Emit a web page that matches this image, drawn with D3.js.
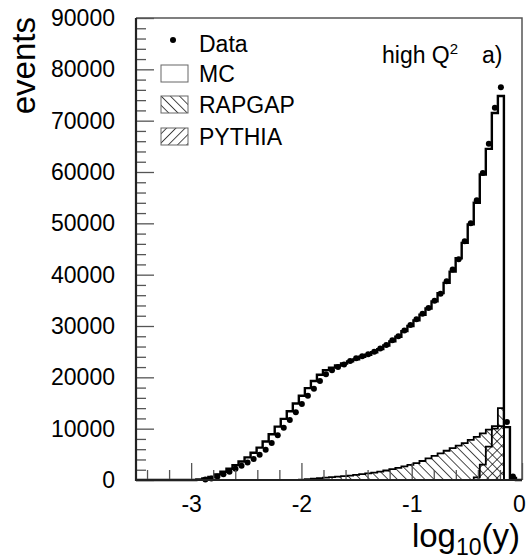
<!DOCTYPE html>
<html>
<head>
<meta charset="utf-8">
<script src="https://cdn.jsdelivr.net/npm/d3@7"></script>
<style>
  body { margin: 0; background: #fff; }
  text { font-family: "Liberation Sans", Arial, Helvetica, sans-serif; fill: #000; }
</style>
</head>
<body>
<svg id="chart" width="526" height="559"></svg>
<script>
// binning of log10(y): 64 bins from -3.5 to 0
const xMin = -3.5, xMax = 0, nBins = 64;

// bin contents (one value per bin, left to right)
const dataCounts = [
    0, 0, 0, 0, 0, 0, 0, 0, 0, 0, 0, 100,
    300, 700, 1100, 1600, 2200, 2800, 3400, 4100, 4900, 5900,
    7200, 8700, 10200, 11700, 13200, 14800, 16400, 17800, 19300, 20600,
    21400, 22000, 22500, 23200, 23700, 24100, 24500, 25000, 25600, 26300,
    27200, 28000, 29100, 30200, 31300, 32400, 33500, 34900, 36300, 38700,
    41000, 43000, 46500, 50000, 54500, 59800, 65500, 72500, 76500, 11300,
    700, 0
];
const mcCounts = [
    0, 0, 0, 0, 0, 0, 0, 0, 0, 0, 100, 300,
    600, 1100, 1600, 2200, 2900, 3600, 4400, 5300, 6300, 7500,
    8900, 10400, 11900, 13400, 14900, 16400, 17900, 19300, 20500, 21400,
    21900, 22300, 22700, 23100, 23500, 24000, 24400, 24900, 25500, 26200,
    27000, 27900, 29000, 30000, 31100, 32200, 33400, 34800, 36400, 38400,
    40600, 43200, 46200, 49800, 54000, 59500, 64500, 71500, 74800, 10300,
    400, 0
];
const rapgapCounts = [
    0, 0, 0, 0, 0, 0, 0, 0, 0, 0, 0, 0,
    0, 0, 0, 0, 0, 0, 0, 0, 0, 0,
    0, 0, 0, 0, 0, 50, 150, 250, 350, 450,
    550, 650, 750, 850, 1000, 1150, 1300, 1450, 1650, 1850,
    2100, 2350, 2650, 2950, 3300, 3700, 4200, 4700, 5200, 5700,
    6200, 6700, 7200, 7800, 8400, 9100, 9800, 10500, 14000, 0,
    0, 0
];
const pythiaCounts = [
    0, 0, 0, 0, 0, 0, 0, 0, 0, 0, 0, 0,
    0, 0, 0, 0, 0, 0, 0, 0, 0, 0,
    0, 0, 0, 0, 0, 0, 0, 0, 0, 0,
    0, 0, 0, 0, 0, 0, 0, 0, 0, 0,
    0, 0, 0, 0, 0, 0, 0, 0, 0, 0,
    0, 0, 0, 0, 500, 3000, 6500, 10000, 10500, 0,
    0, 0
];

const xMajorTicks = [-3, -2, -1, 0];
const yMajorTicks = [0, 10000, 20000, 30000, 40000, 50000, 60000, 70000, 80000, 90000];
const legendLabels = ["Data", "MC", "RAPGAP", "PYTHIA"];

const svg = d3.select("#chart");

const x = d3.scaleLinear().domain([xMin, xMax]).range([136, 522]);
const y = d3.scaleLinear().domain([0, 90000]).range([480, 18]);

const edges = d3.range(nBins + 1).map(i => xMin + i * (xMax - xMin) / nBins);
const centers = d3.range(nBins).map(i => (edges[i] + edges[i + 1]) / 2);

// hatch patterns
const defs = svg.append("defs");
function hatch(id, angle, spacing) {
    const p = defs.append("pattern")
        .attr("id", id)
        .attr("patternUnits", "userSpaceOnUse")
        .attr("width", spacing)
        .attr("height", spacing)
        .attr("patternTransform", `rotate(${angle})`);
    p.append("line")
        .attr("x1", 0).attr("y1", 0)
        .attr("x2", 0).attr("y2", spacing)
        .attr("stroke", "#000")
        .attr("stroke-width", 1.4);
}
hatch("hatch-rapgap", -45, 6.5);
hatch("hatch-pythia", 45, 6.5);

// frame (top and right)
svg.append("path")
    .attr("d", `M${x(xMin)},${y(90000)}H${x(xMax)}V${y(0)}`)
    .attr("fill", "none")
    .attr("stroke", "#555")
    .attr("stroke-width", 1.5);

function stepPoints(vals) {
    const pts = [];
    vals.forEach((v, i) => {
        pts.push([edges[i], v]);
        pts.push([edges[i + 1], v]);
    });
    return pts;
}

const area = d3.area()
    .x(d => x(d[0]))
    .y0(y(0))
    .y1(d => y(d[1]));
const line = d3.line()
    .x(d => x(d[0]))
    .y(d => y(d[1]));

function drawHist(vals, fill, width) {
    const pts = stepPoints(vals);
    svg.append("path")
        .attr("d", area(pts))
        .attr("fill", fill)
        .attr("stroke", "none");
    svg.append("path")
        .attr("d", line(pts))
        .attr("fill", "none")
        .attr("stroke", "#000")
        .attr("stroke-width", width)
        .attr("stroke-linejoin", "miter");
}

drawHist(mcCounts, "#fff", 2.4);
drawHist(rapgapCounts, "url(#hatch-rapgap)", 1.8);
drawHist(pythiaCounts, "url(#hatch-pythia)", 1.8);

// data points
svg.append("g")
    .selectAll("circle")
    .data(centers.map((c, i) => [c, dataCounts[i]]).filter(d => d[1] > 0))
    .enter()
    .append("circle")
    .attr("cx", d => x(d[0]))
    .attr("cy", d => y(d[1]))
    .attr("r", 3)
    .attr("fill", "#000");

// y axis, ticks pointing inwards
const yAxis = svg.append("g")
    .attr("transform", `translate(${x(xMin)},0)`)
    .call(d3.axisLeft(y).tickValues(yMajorTicks).tickSizeInner(-18).tickSizeOuter(0)
        .tickPadding(21).tickFormat(d => String(d)));
yAxis.select(".domain").remove();
yAxis.selectAll("line").attr("stroke", "#555").attr("stroke-width", 1.3);
yAxis.selectAll("text").style("font-size", "23px").attr("fill", "#000");

const yMinor = svg.append("g")
    .attr("transform", `translate(${x(xMin)},0)`)
    .call(d3.axisLeft(y).tickValues(d3.range(0, 90001, 2000).filter(v => v % 10000 !== 0))
        .tickSizeInner(-10).tickSizeOuter(0).tickFormat(""));
yMinor.select(".domain").remove();
yMinor.selectAll("line").attr("stroke", "#555").attr("stroke-width", 1.3);

// x axis, ticks pointing inwards
const xAxis = svg.append("g")
    .attr("transform", `translate(0,${y(0)})`)
    .call(d3.axisBottom(x).tickValues(xMajorTicks).tickSizeInner(-17).tickSizeOuter(0)
        .tickPadding(16).tickFormat(d => String(d)));
xAxis.select(".domain").remove();
xAxis.selectAll("line").attr("stroke", "#555").attr("stroke-width", 1.3);
xAxis.selectAll("text").style("font-size", "23px").attr("fill", "#000");
// keep the last label inside the window
xAxis.selectAll("text").filter(d => d === 0).attr("dx", -3);

const xMinor = svg.append("g")
    .attr("transform", `translate(0,${y(0)})`)
    .call(d3.axisBottom(x).tickValues(d3.range(-17, 0).filter(k => k % 5 !== 0).map(k => k / 5))
        .tickSizeInner(-10).tickSizeOuter(0).tickFormat(""));
xMinor.select(".domain").remove();
xMinor.selectAll("line").attr("stroke", "#555").attr("stroke-width", 1.3);

// axis lines
svg.append("path")
    .attr("d", `M${x(xMin)},${y(90000)}V${y(0)}H${x(xMax)}`)
    .attr("fill", "none")
    .attr("stroke", "#222")
    .attr("stroke-width", 2.2);

// axis titles
svg.append("text")
    .attr("transform", `translate(35,17) rotate(-90)`)
    .attr("text-anchor", "end")
    .style("font-size", "33px")
    .text("events");

const xt = svg.append("text")
    .attr("x", 520)
    .attr("y", 547)
    .attr("text-anchor", "end")
    .style("font-size", "33px");
xt.append("tspan").text("log");
xt.append("tspan").attr("dy", 8).style("font-size", "23px").text("10");
xt.append("tspan").attr("dy", -8).text("(y)");

// label
const hq = svg.append("text")
    .attr("x", 382)
    .attr("y", 63)
    .style("font-size", "23px");
hq.append("tspan").text("high Q");
hq.append("tspan").attr("dy", -9).style("font-size", "15px").text("2");
svg.append("text")
    .attr("x", 482)
    .attr("y", 63)
    .style("font-size", "23px")
    .text("a)");

// legend
const legendY = [44, 74, 105, 137];
const legend = svg.append("g");
legend.append("circle")
    .attr("cx", 173).attr("cy", legendY[0] - 4).attr("r", 3).attr("fill", "#000");
const boxFills = [null, "#fff", "url(#hatch-rapgap)", "url(#hatch-pythia)"];
boxFills.forEach((f, i) => {
    if (!f) return;
    legend.append("rect")
        .attr("x", 161)
        .attr("y", legendY[i] - 9)
        .attr("width", 27)
        .attr("height", 17)
        .attr("fill", f)
        .attr("stroke", "#666")
        .attr("stroke-width", 1);
});
legend.selectAll("text")
    .data(legendLabels)
    .enter()
    .append("text")
    .attr("x", 199)
    .attr("y", (d, i) => legendY[i] + 8)
    .style("font-size", "23px")
    .text(d => d);
</script>
</body>
</html>
